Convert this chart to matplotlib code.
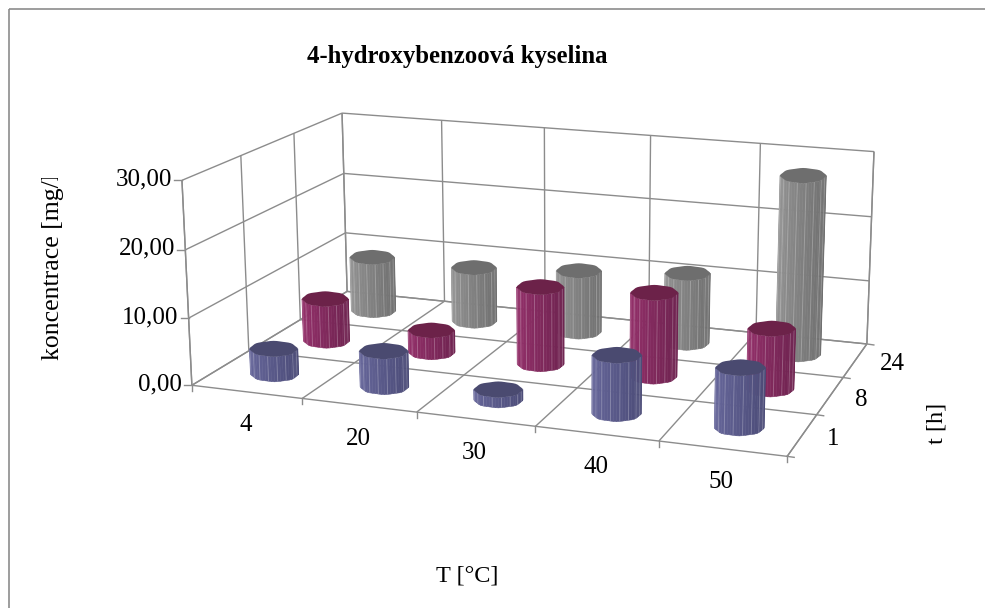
"""4-hydroxybenzoic acid, Excel style 3D cylinder chart drawn on a flat axes."""
import numpy as np
import matplotlib
matplotlib.use("Agg")
import matplotlib.pyplot as plt
from matplotlib.colors import to_rgb
from matplotlib.patches import Polygon, Rectangle
from matplotlib.transforms import Bbox

plt.rcParams["font.family"] = ["Liberation Serif", "DejaVu Serif"]

# data
T_LABELS = ["4", "20", "30", "40", "50"]
HOUR_LABELS = ["1", "8", "24"]
Z_TICKS = [0, 10, 20, 30]
Z_LABELS = ["0,00", "10,00", "20,00", "30,00"]
CONC_1H = [3.8, 5.3, 1.5, 8.4, 8.5]
CONC_8H = [6.6, 3.4, 11.8, 12.6, 9.0]
CONC_24H = [8.8, 8.7, 9.8, 11.0, 27.5]
SERIES = [CONC_1H, CONC_8H, CONC_24H]

# colours: side light, side dark, top
COLORS = [("#66669a", "#4c4c78", "#4a4a70"),
          ("#93306a", "#6f2350", "#6c2249"),
          ("#929292", "#707070", "#6e6e6e")]
GRID = "#8c8c8c"

ZMAX = Z_TICKS[-1]
NX = len(T_LABELS)
NY = len(HOUR_LABELS)

# camera calibration: box corners (world) against where they sit in the picture
WORLD = np.array([[0, 0, 0], [NX, 0, 0], [NX, NY, 0], [0, NY, 0],
                  [0, 0, ZMAX], [0, NY, ZMAX], [NX, NY, ZMAX]], float)
PIXEL = np.array([[192, 385], [787, 457], [867, 343], [347, 292],
                  [182, 180], [342, 113], [874, 152]], float)


def fit_camera(world, pixel):
    rows = []
    for (x, y, z), (u, v) in zip(world, pixel):
        rows.append([x, y, z, 1, 0, 0, 0, 0, -u * x, -u * y, -u * z, -u])
        rows.append([0, 0, 0, 0, x, y, z, 1, -v * x, -v * y, -v * z, -v])
    return np.linalg.svd(np.array(rows))[2][-1].reshape(3, 4)


CAM = fit_camera(WORLD, PIXEL)


def project(x, y, z):
    x, y, z = np.broadcast_arrays(x, y, z)
    pts = np.stack([x, y, z, np.ones_like(x, dtype=float)], axis=-1) @ CAM.T
    return pts[..., 0] / pts[..., 2], pts[..., 1] / pts[..., 2]


fig = plt.figure(figsize=(9.85, 6.08), dpi=100)
ax = fig.add_axes([0, 0, 1, 1])
ax.set_xlim(0, 985)
ax.set_ylim(608, 0)
ax.axis("off")


def line3d(p0, p1, zorder=1):
    u, v = project(*np.array([p0, p1], float).T)
    ax.plot(u, v, color=GRID, lw=1.0, zorder=zorder, solid_capstyle="butt")


# chart frame runs off the right and bottom of the picture
ax.add_patch(Rectangle((8.5, 8.5), 1100, 700, fill=False, ec="#8c8c8c", lw=1.2))

# walls and floor
for z in Z_TICKS:
    line3d((0, 0, z), (0, NY, z))
    line3d((0, NY, z), (NX, NY, z))
for i in range(NX + 1):
    line3d((i, 0, 0), (i, NY, 0))
    line3d((i, NY, 0), (i, NY, ZMAX))
for j in range(NY + 1):
    line3d((0, j, 0), (NX, j, 0))
    line3d((0, j, 0), (0, j, ZMAX))
line3d((0, 0, 0), (0, 0, ZMAX))
line3d((NX, 0, 0), (NX, NY, 0))
line3d((NX, NY, 0), (NX, NY, ZMAX))

# ticks
for z, lab in zip(Z_TICKS, Z_LABELS):
    u, v = project(0, 0, z)
    ax.plot([u - 8, u], [v, v], color=GRID, lw=1.0)
    ax.text(u - 10, v - 1, lab, ha="right", va="center", fontsize=18)
for i in range(NX + 1):
    u, v = project(i, 0, 0)
    ax.plot([u, u], [v, v + 6], color=GRID, lw=1.0)
for i, lab in enumerate(T_LABELS):
    u, v = project(i + 0.5, 0, 0)
    ax.text(u - 1, v + 33.5, lab, ha="center", va="center", fontsize=18)
for j in range(NY + 1):
    u, v = project(NX, j, 0)
    ax.plot([u, u + 7], [v, v + 1], color=GRID, lw=1.0)
for j, lab in enumerate(HOUR_LABELS):
    u, v = project(NX, j + 0.5, 0)
    ax.text(u + 25, v + 4, lab, ha="left", va="center", fontsize=18)

# cylinders, back row first; rims stay level on screen like Excel draws them
RX = 0.195
FLAT = 0.33
N_FACETS = 48
theta = np.linspace(0, 2 * np.pi, N_FACETS + 1)
lump = 1 + 0.025 * np.cos(8 * theta)


def rim(i, j, z):
    r = RX * (1 + 0.03 * (NX - 1 - i))  # Excel widens the far left ones a bit
    cu, cv = project(i + 0.5, j + 0.5, z)
    left, _ = project(i + 0.5 - r, j + 0.5, z)
    right, _ = project(i + 0.5 + r, j + 0.5, z)
    hw = (right - left) / 2
    return cu + hw * lump * np.cos(theta), cv + FLAT * hw * lump * np.sin(theta)


def cylinder(i, j, value, colors):
    ub, vb = rim(i, j, 0.0)
    ut, vt = rim(i, j, value)
    light, dark = np.array(to_rgb(colors[0])), np.array(to_rgb(colors[1]))
    umin, umax = ub.min(), ub.max()
    base_z = 3 + 3 - j
    for k in range(N_FACETS // 2):
        # theta runs clockwise on screen, so this half faces the camera
        f = np.clip((ub[k] - umin) / (umax - umin), 0, 1)
        col = light * (1 - f) + dark * f
        ax.add_patch(Polygon([(ub[k], vb[k]), (ub[k + 1], vb[k + 1]),
                              (ut[k + 1], vt[k + 1]), (ut[k], vt[k])],
                             fc=col, ec=col, lw=0.4, zorder=base_z))
    for k in range(2, N_FACETS // 2, 3):
        ax.plot([ub[k], ut[k]], [vb[k], vt[k]], color="white", alpha=0.22,
                lw=0.7, zorder=base_z + 0.5)
    ax.add_patch(Polygon(np.column_stack([ut, vt]), fc=colors[2], ec="none",
                         zorder=base_z + 0.6))


for j in reversed(range(NY)):
    for i in range(NX):
        cylinder(i, j, SERIES[j][i], COLORS[j])

# titles
ax.text(457, 57, "4-hydroxybenzoová kyselina", ha="center", va="center",
        fontsize=17.8, fontweight="bold")
ax.text(467, 576, "T [°C]", ha="center", va="center", fontsize=17.5)
ax.text(937, 423, "t [h]", ha="center", va="center", rotation=90, fontsize=17.5)
ylab = ax.text(53, 360, "koncentrace [mg/l]", ha="center", va="bottom",
               rotation=90, fontsize=18.5)
ylab.set_clip_box(Bbox([[0, 0], [985, 608 - 178]]))
ylab.set_clip_on(True)

fig.savefig("out.png", dpi=100)
